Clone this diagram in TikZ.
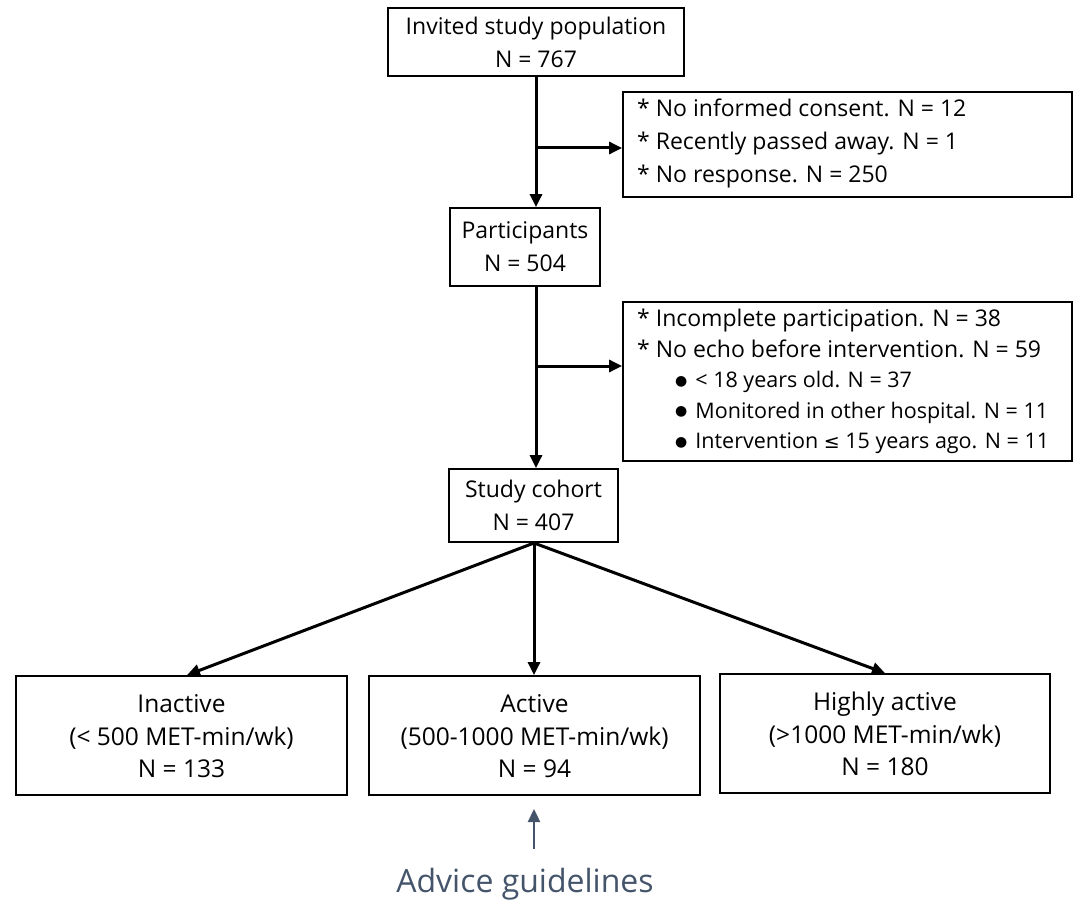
\documentclass[tikz,border=0pt]{standalone}
\usepackage{fontspec}
\setmainfont{Open Sans}
\newfontfamily\symfont{DejaVu Sans}
\usetikzlibrary{arrows.meta}
\definecolor{slateblue}{HTML}{44546A}
\newcommand{\bul}{\raisebox{2.5pt}{\symfont\fontsize{14}{14}\selectfont ●}}
\newcommand{\leqsym}{{\symfont\fontsize{19}{19}\selectfont ≤}}
\newcommand{\catlines}[3]{\raisebox{-9.5pt}[0pt][0pt]{\begin{tabular}{@{}c@{}}#1\\#2\\#3\end{tabular}}}
\begin{document}
\begin{tikzpicture}[x=1pt,y=-1pt,
  box/.style={draw,line width=1.8pt,rectangle,inner sep=0pt,align=center,font=\fontsize{23}{33}\selectfont},
  sidebox/.style={draw,line width=1.8pt,rectangle,inner sep=0pt},
  conn/.style={line width=3pt,-{Triangle[length=13pt,width=12pt]}},
  catbox/.style={draw,line width=1.8pt,rectangle,inner sep=0pt,minimum width=331pt,minimum height=119pt,align=center,font=\fontsize{24.5}{32.5}\selectfont}
]
\useasboundingbox (0,0) rectangle (1074,904);
% main boxes
\node[box,minimum width=296pt,minimum height=68pt] (b1) at (536,42) {Invited study population\\N = 767};
\node[box,minimum width=150pt,minimum height=78pt] (b2) at (525,247) {Participants\\N = 504};
\node[box,minimum width=169pt,minimum height=73pt] (b3) at (533.5,505.5) {Study cohort\\N = 407};
% side boxes
\node[sidebox,minimum width=449pt,minimum height=105pt] (s1) at (847.5,144.5) {};
\node[sidebox,minimum width=449pt,minimum height=159pt] (s2) at (847.5,381.5) {};
\node[anchor=north west,inner sep=0pt,align=left,font=\fontsize{23}{33}\selectfont] (s1t) at (637,99)
 {* No informed consent. N = 12\\* Recently passed away. N = 1\\* No response. N = 250};
\node[anchor=north west,inner sep=0pt,align=left,font=\fontsize{23}{30.5}\selectfont] (s2t) at (637,309)
 {* Incomplete participation. N = 38\\* No echo before intervention. N = 59\\
 {\fontsize{21.5}{30.5}\selectfont\hspace*{38pt}\bul\hspace{8pt}< 18 years old. N = 37}\\
 {\fontsize{21.5}{30.5}\selectfont\hspace*{38pt}\bul\hspace{8pt}Monitored in other hospital. N = 11}\\
 {\fontsize{21.5}{30.5}\selectfont\hspace*{38pt}\bul\hspace{8pt}Intervention \leqsym\ 15 years ago. N = 11}};
% category boxes
\node[catbox] (c1) at (181.5,735.5) {\catlines{Inactive}{(< 500 MET-min/wk)}{N = 133}};
\node[catbox] (c2) at (534.5,735.5) {\catlines{Active}{(500-1000 MET-min/wk)}{N = 94}};
\node[catbox,minimum width=330pt] (c3) at (885,733.5) {\catlines{Highly active}{(>1000 MET-min/wk)}{N = 180}};
% connectors
\coordinate (t1) at (536,76);
\coordinate (j1) at (536,148);
\coordinate (t2) at (536,286);
\coordinate (j2) at (536,366);
\draw[conn] (t1) -- (t1 |- b2.north);
\draw[conn] (j1) -- (j1 -| s1.west);
\draw[conn] (t2) -- (t2 |- b3.north);
\draw[conn] (j2) -- (j2 -| s2.west);
\coordinate (o3) at (534,543);
\draw[conn] (o3) -- (c1.north -| 187,0);
\draw[conn] (o3) -- (c2.north -| 534,0);
\draw[conn] (o3) -- (c3.north);
% advice
\node[text=slateblue,font=\fontsize{32}{34}\selectfont,inner sep=0pt] (adv) at (525,884) {Advice guidelines};
\coordinate (a0) at (534,849);
\coordinate (a1) at (534,809);
\draw[slateblue,line width=2.4pt,-{Triangle[length=13pt,width=12pt]}] (a0) -- (a1);
\end{tikzpicture}
\end{document}
